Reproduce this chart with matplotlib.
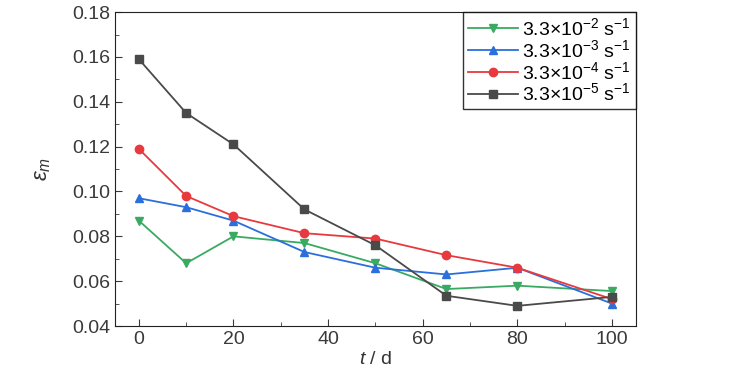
import matplotlib
matplotlib.use("Agg")
import matplotlib.pyplot as plt
from matplotlib.ticker import MultipleLocator

plt.rcParams['font.family'] = ['Liberation Sans', 'DejaVu Sans']
plt.rcParams['mathtext.fontset'] = 'custom'
plt.rcParams['mathtext.rm'] = 'Liberation Sans'
plt.rcParams['mathtext.it'] = 'Liberation Sans:italic'
plt.rcParams['mathtext.sf'] = 'Liberation Sans'

days = [0, 10, 20, 35, 50, 65, 80, 100]
rate_e2 = [0.087, 0.068, 0.080, 0.077, 0.068, 0.0565, 0.058, 0.0556]
rate_e3 = [0.097, 0.093, 0.087, 0.073, 0.066, 0.063, 0.066, 0.050]
rate_e4 = [0.119, 0.098, 0.089, 0.0814, 0.079, 0.0716, 0.066, 0.052]
rate_e5 = [0.159, 0.135, 0.121, 0.092, 0.076, 0.0535, 0.049, 0.053]

labels = ['3.3×10$^{-2}$ s$^{-1}$', '3.3×10$^{-3}$ s$^{-1}$',
          '3.3×10$^{-4}$ s$^{-1}$', '3.3×10$^{-5}$ s$^{-1}$']

fig, ax = plt.subplots(figsize=(7.29, 3.9), dpi=100)
fig.subplots_adjust(left=0.158, right=0.872, top=0.969, bottom=0.164)

ax.plot(days, rate_e2, color='#3aaa62', marker='v', ms=6, lw=1.3, label=labels[0])
ax.plot(days, rate_e3, color='#2a6fdc', marker='^', ms=6, lw=1.3, label=labels[1])
ax.plot(days, rate_e4, color='#e83a3e', marker='o', ms=6, lw=1.3, label=labels[2])
ax.plot(days, rate_e5, color='#4a4a4a', marker='s', ms=5.5, lw=1.3, label=labels[3])

ax.set_xlim(-5, 105)
ax.set_ylim(0.04, 0.18)
ax.xaxis.set_major_locator(MultipleLocator(20))
ax.xaxis.set_minor_locator(MultipleLocator(10))
ax.yaxis.set_major_locator(MultipleLocator(0.02))
ax.yaxis.set_minor_locator(MultipleLocator(0.01))
ax.yaxis.set_major_formatter(matplotlib.ticker.FormatStrFormatter('%.2f'))
ax.tick_params(which='both', direction='in', labelsize=14, colors='#3a3a3a')
ax.tick_params(which='major', length=5)
ax.tick_params(which='minor', length=3)
for s in ax.spines.values():
    s.set_color('#222222')

ax.set_xlabel('$\\it{t}$ / d', fontsize=14, color='#333333', labelpad=2)
ax.set_ylabel('$\\varepsilon_{\\it{m}}$', fontsize=16, color='#333333', labelpad=14)

leg = ax.legend(loc='upper right', fontsize=14, frameon=True, fancybox=False,
                edgecolor='black', borderaxespad=0, labelspacing=0.0,
                handlelength=2.6, handletextpad=0.2, borderpad=0.25)
leg.get_frame().set_linewidth(1.0)

fig.savefig('out.png', dpi=100)
